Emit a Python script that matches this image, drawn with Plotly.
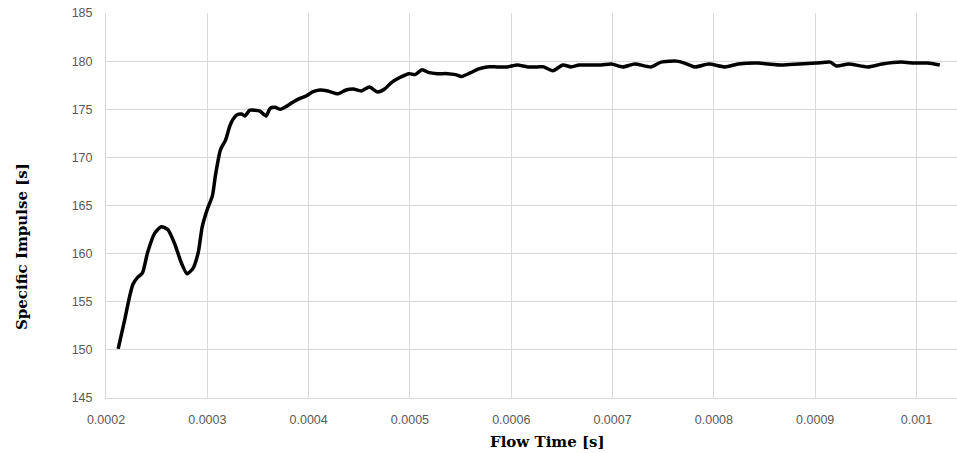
import plotly.graph_objects as go

# Flow time [s] and specific impulse [s]
flow_time = [
    0.000212, 0.000218, 0.000223, 0.0002265, 0.000231, 0.000236, 0.000241, 0.000248,
    0.0002545, 0.000261, 0.0002675, 0.0002745, 0.000280, 0.000286, 0.000291, 0.000295,
    0.000300, 0.000305, 0.000308, 0.000313, 0.000318, 0.000322, 0.000325, 0.000329,
    0.000334, 0.000337, 0.000342, 0.000347, 0.000352, 0.000358, 0.000362, 0.000367,
    0.000372, 0.000378, 0.000384, 0.000391, 0.000398, 0.000404, 0.000411, 0.000419,
    0.000429, 0.000437, 0.000444, 0.000452, 0.000460, 0.000468, 0.000475, 0.000482,
    0.000490, 0.000499, 0.000505, 0.000512, 0.000519, 0.000527, 0.000537, 0.000545,
    0.000551, 0.000560, 0.000568, 0.000576, 0.000586, 0.000596, 0.000606, 0.000616,
    0.000626, 0.000632, 0.000641, 0.000651, 0.000659, 0.000667, 0.000679, 0.000689,
    0.000699, 0.000710, 0.000722, 0.000738, 0.000748, 0.000763, 0.000771, 0.000781,
    0.000795, 0.000811, 0.000824, 0.000844, 0.000854, 0.000867, 0.000884, 0.000901,
    0.000915, 0.000921, 0.000933, 0.000952, 0.000966, 0.000985, 0.000998, 0.001011,
    0.001023,
]
specific_impulse = [
    150.1, 152.9, 155.4, 156.8, 157.5, 158.0, 160.1, 162.1,
    162.8, 162.5, 161.1, 159.0, 157.9, 158.5, 160.1, 162.8,
    164.6, 166.0, 168.1, 170.8, 171.8, 173.2, 173.9, 174.4,
    174.5, 174.3, 174.9, 174.9, 174.8, 174.3, 175.1, 175.2,
    175.0, 175.3, 175.7, 176.1, 176.4, 176.8, 177.0, 176.9,
    176.6, 177.0, 177.1, 176.9, 177.3, 176.8, 177.1, 177.8,
    178.3, 178.7, 178.6, 179.1, 178.8, 178.7, 178.7, 178.6,
    178.4, 178.8, 179.2, 179.4, 179.4, 179.4, 179.6, 179.4,
    179.4, 179.4, 179.0, 179.6, 179.4, 179.6, 179.6, 179.6,
    179.7, 179.4, 179.7, 179.4, 179.9, 180.0, 179.8, 179.4,
    179.7, 179.4, 179.7, 179.8, 179.7, 179.6, 179.7, 179.8,
    179.9, 179.5, 179.7, 179.4, 179.7, 179.9, 179.8, 179.8,
    179.6,
]

x_ticks = [0.0002, 0.0003, 0.0004, 0.0005, 0.0006, 0.0007, 0.0008, 0.0009, 0.001]
x_tick_text = ["0.0002", "0.0003", "0.0004", "0.0005", "0.0006", "0.0007", "0.0008", "0.0009", "0.001"]
y_ticks = [145, 150, 155, 160, 165, 170, 175, 180, 185]

grid = "#d9d9d9"
tick_font = dict(family="Liberation Sans, Arial, sans-serif", size=12.5, color="#595959")
title_font = dict(family="DejaVu Serif, serif", size=15, color="#000000")

fig = go.Figure()
fig.add_trace(go.Scatter(
    x=flow_time, y=specific_impulse, mode="lines",
    line=dict(color="#000000", width=3.5, shape="spline", smoothing=0.6),
    showlegend=False,
))

fig.update_layout(
    width=957, height=453,
    margin=dict(l=106, r=0, t=13, b=55),
    paper_bgcolor="#ffffff", plot_bgcolor="#ffffff",
    xaxis=dict(
        range=[0.0002, 0.00104], tickvals=x_ticks, ticktext=x_tick_text,
        showgrid=True, gridcolor=grid, gridwidth=1, zeroline=False,
        showline=True, linecolor=grid, linewidth=1,
        tickfont=tick_font, ticks="", ticklabelstandoff=10,
    ),
    yaxis=dict(
        range=[145, 185], tickvals=y_ticks,
        showgrid=True, gridcolor=grid, gridwidth=1, zeroline=False,
        showline=True, linecolor=grid, linewidth=1,
        tickfont=tick_font, ticks="", ticklabelstandoff=10,
    ),
    annotations=[
        dict(text="<b>Flow Time [s]</b>", xref="paper", yref="paper",
             x=(547 - 106) / (957 - 106), y=-(442 - 398) / (398 - 13),
             xanchor="center", yanchor="middle", showarrow=False, font=title_font),
        dict(text="<b>Specific Impulse [s]</b>", xref="paper", yref="paper",
             x=-(106 - 22) / (957 - 106), y=(398 - 247) / (398 - 13),
             xanchor="center", yanchor="middle", textangle=-90,
             showarrow=False, font=title_font),
    ],
)

fig.write_html("out.html")
